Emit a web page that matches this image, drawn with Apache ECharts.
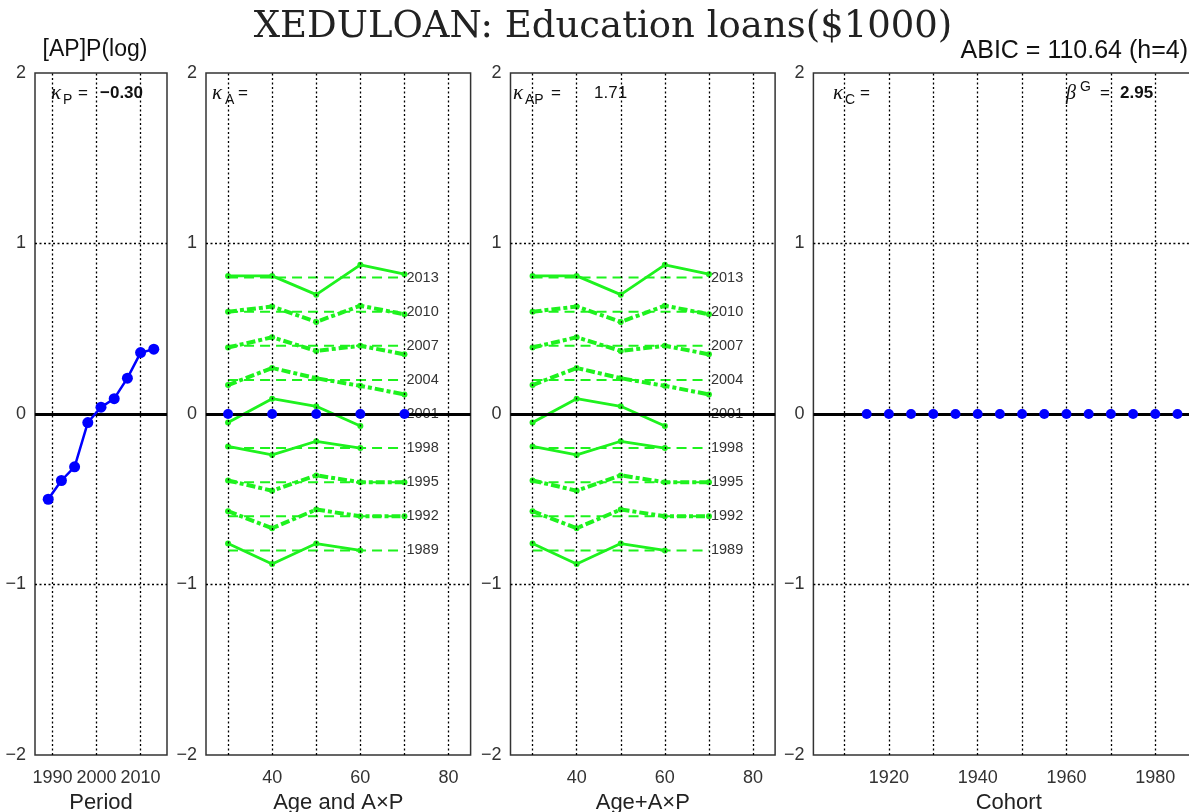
<!DOCTYPE html>
<html><head><meta charset="utf-8">
<script src="https://cdn.jsdelivr.net/npm/echarts@6/dist/echarts.min.js"></script>
<style>html,body{margin:0;padding:0;background:#fff}#c{width:1189px;height:812px}</style>
</head><body><div id="c"></div>
<script>
// ---------------- data ----------------
const periods = [1989, 1992, 1995, 1998, 2001, 2004, 2007, 2010, 2013];
const periodEffect = [-0.50, -0.39, -0.31, -0.05, 0.04, 0.09, 0.21, 0.36, 0.38];
const ages = [30, 40, 50, 60, 70];
const ageEffect = [0, 0, 0, 0, 0];
const periodLevels = [-0.8, -0.6, -0.4, -0.2, 0, 0.2, 0.4, 0.6, 0.8];
const ap1989 = [-0.76, -0.88, -0.76, -0.80, null];
const ap1992 = [-0.57, -0.67, -0.56, -0.60, -0.60];
const ap1995 = [-0.39, -0.45, -0.36, -0.40, -0.40];
const ap1998 = [-0.19, -0.24, -0.16, -0.20, null];
const ap2001 = [-0.05, 0.09, 0.045, -0.07, null];
const ap2004 = [0.17, 0.27, 0.21, 0.165, 0.115];
const ap2007 = [0.39, 0.45, 0.37, 0.40, 0.35];
const ap2010 = [0.60, 0.63, 0.54, 0.635, 0.585];
const ap2013 = [0.81, 0.81, 0.70, 0.875, 0.82];
const apValues = [ap1989, ap1992, ap1995, ap1998, ap2001, ap2004, ap2007, ap2010, ap2013];
const cohorts = [1915, 1920, 1925, 1930, 1935, 1940, 1945, 1950, 1955, 1960, 1965, 1970, 1975, 1980, 1985];
const cohortEffect = [0, 0, 0, 0, 0, 0, 0, 0, 0, 0, 0, 0, 0, 0, 0];
const periodTicks = [1990, 2000, 2010];
const ageTicks = [40, 60, 80];
const ageGridTicks = [30, 40, 50, 60, 70, 80];
const cohortTicks = [1920, 1940, 1960, 1980];
const cohortGridTicks = [1910, 1920, 1930, 1940, 1950, 1960, 1970, 1980];
const yTicks = [-2, -1, 0, 1, 2];

// ---------------- styles ----------------
const GREEN = '#1ef21e';
const BLUE = '#0000ff';
const SANS = 'Liberation Sans';
const heavyDashed = [false, true, true, false, false, true, true, true, false];

const panels = [
  {left: 35, width: 132, min: 1986, max: 2016, interval: 2, labels: periodTicks, grid: periodTicks, name: 'Period'},
  {left: 206, width: 264.6, min: 25, max: 85, interval: 5, labels: ageTicks, grid: ageGridTicks, name: 'Age and A\u00d7P'},
  {left: 510.5, width: 264.6, min: 25, max: 85, interval: 5, labels: ageTicks, grid: ageGridTicks, name: 'Age+A\u00d7P'},
  {left: 813.4, width: 390.7, min: 1903, max: 1991, interval: 1, labels: cohortTicks, grid: cohortGridTicks, name: 'Cohort'}
];

const grids = [], xAxes = [], yAxes = [], series = [];
const fmtY = v => (v < 0 ? '\u2212' + Math.abs(v) : String(v));

panels.forEach((p, i) => {
  grids.push({left: p.left, top: 73, width: p.width, height: 682, show: true,
    borderColor: '#333', borderWidth: 1.5, outerBoundsMode: 'none', containLabel: false});
  xAxes.push({type: 'value', gridIndex: i, min: p.min, max: p.max, interval: p.interval,
    axisLine: {show: false}, axisTick: {show: false}, splitLine: {show: false},
    axisLabel: {margin: 14, fontSize: 18, color: '#333', fontFamily: SANS,
      formatter: v => (p.labels.indexOf(v) >= 0 ? String(v) : '')},
    name: p.name, nameLocation: 'middle', nameGap: 33,
    nameTextStyle: {fontSize: 22, color: '#222', fontFamily: SANS}});
  yAxes.push({type: 'value', gridIndex: i, min: -2, max: 2, interval: 1,
    axisLine: {show: false}, axisTick: {show: false}, splitLine: {show: false},
    axisLabel: {margin: 9, fontSize: 18, color: '#333', fontFamily: SANS,
      formatter: v => (yTicks.indexOf(v) >= 0 ? fmtY(v) : '')}});
  const dot = {type: [2, 2.5], color: '#000', width: 1.3};
  const ml = p.grid.map(v => ({xAxis: v, lineStyle: dot}));
  ml.push({yAxis: 1, lineStyle: dot}, {yAxis: -1, lineStyle: dot});
  ml.push({yAxis: 0, lineStyle: {type: 'solid', color: '#000', width: 2.8}});
  series.push({type: 'line', xAxisIndex: i, yAxisIndex: i, data: [], silent: true, z: 1,
    markLine: {silent: true, symbol: ['none', 'none'], label: {show: false}, animation: false, data: ml}});
});

// Panel 1: period effect
series.push({type: 'line', xAxisIndex: 0, yAxisIndex: 0, z: 5,
  data: periods.map((y, k) => [y, periodEffect[k]]),
  symbol: 'circle', symbolSize: 11, itemStyle: {color: BLUE},
  lineStyle: {color: BLUE, width: 2.5}});

// Panels 2 and 3: A x P interaction
[1, 2].forEach(pi => {
  periods.forEach((per, k) => {
    const lvl = periodLevels[k];
    series.push({type: 'line', xAxisIndex: pi, yAxisIndex: pi, z: 3, silent: true,
      data: [[ages[0], lvl], [ages[ages.length - 1], lvl]], symbol: 'none',
      lineStyle: {color: GREEN, width: 2, type: [10, 6]},
      endLabel: {show: true, formatter: String(per), color: '#333', fontSize: 14.5, distance: 2, fontFamily: SANS}});
    const vals = apValues[k];
    series.push({type: 'line', xAxisIndex: pi, yAxisIndex: pi, z: 4,
      data: ages.map((a, j) => [a, vals[j]]).filter(d => d[1] !== null),
      symbol: 'circle', symbolSize: 6, itemStyle: {color: GREEN},
      lineStyle: heavyDashed[k] ? {color: GREEN, width: 4, type: [9, 3, 4, 3]} : {color: GREEN, width: 2.8}});
  });
});
// Panel 2: age effect
series.push({type: 'line', xAxisIndex: 1, yAxisIndex: 1, z: 6,
  data: ages.map((a, j) => [a, ageEffect[j]]),
  symbol: 'circle', symbolSize: 10, itemStyle: {color: BLUE},
  lineStyle: {color: BLUE, width: 0}});
// Panel 4: cohort effect
series.push({type: 'line', xAxisIndex: 3, yAxisIndex: 3, z: 6,
  data: cohorts.map((c, j) => [c, cohortEffect[j]]),
  symbol: 'circle', symbolSize: 10, itemStyle: {color: BLUE},
  lineStyle: {color: BLUE, width: 0}});

// ---------------- text ----------------
const T = (x, y, text, size, opts) => Object.assign({type: 'text', x: x, y: y, z: 100, silent: true,
  style: Object.assign({text: text, fontSize: size, fontFamily: SANS, fill: '#111', align: 'left', verticalAlign: 'middle'}, opts || {})});
const KAP = {fontFamily: 'Liberation Serif', fontStyle: 'italic'};
const graphics = [
  T(603, 27, 'XEDULOAN: Education loans($1000)', 37, {fontFamily: 'DejaVu Serif', align: 'center', fill: '#222'}),
  T(95, 50, '[AP]P(log)', 23, {align: 'center'}),
  T(1188, 51, 'ABIC = 110.64 (h=4)', 25, {align: 'right'}),
  // panel 1
  T(51, 93, '\u03ba', 21, KAP), T(63, 100, 'P', 14), T(78, 93, '=', 17), T(100, 93, '\u22120.30', 17, {fontWeight: 'bold'}),
  // panel 2
  T(212, 93, '\u03ba', 21, KAP), T(225, 100, 'A', 14), T(238, 93, '=', 17),
  // panel 3
  T(513, 93, '\u03ba', 21, KAP), T(525, 100, 'AP', 14), T(551, 93, '=', 17), T(594, 93, '1.71', 17),
  // panel 4
  T(833, 93, '\u03ba', 21, KAP), T(845, 100, 'C', 14), T(860, 93, '=', 17),
  T(1066, 94, '\u03b2', 20, KAP), T(1080, 87, 'G', 14), T(1100, 93, '=', 17), T(1120, 93, '2.95', 17, {fontWeight: 'bold'})
];

const chart = echarts.init(document.getElementById('c'), null, {renderer: 'canvas'});
chart.setOption({
  animation: false,
  backgroundColor: '#fff',
  grid: grids, xAxis: xAxes, yAxis: yAxes, series: series, graphic: graphics
});
</script></body></html>
